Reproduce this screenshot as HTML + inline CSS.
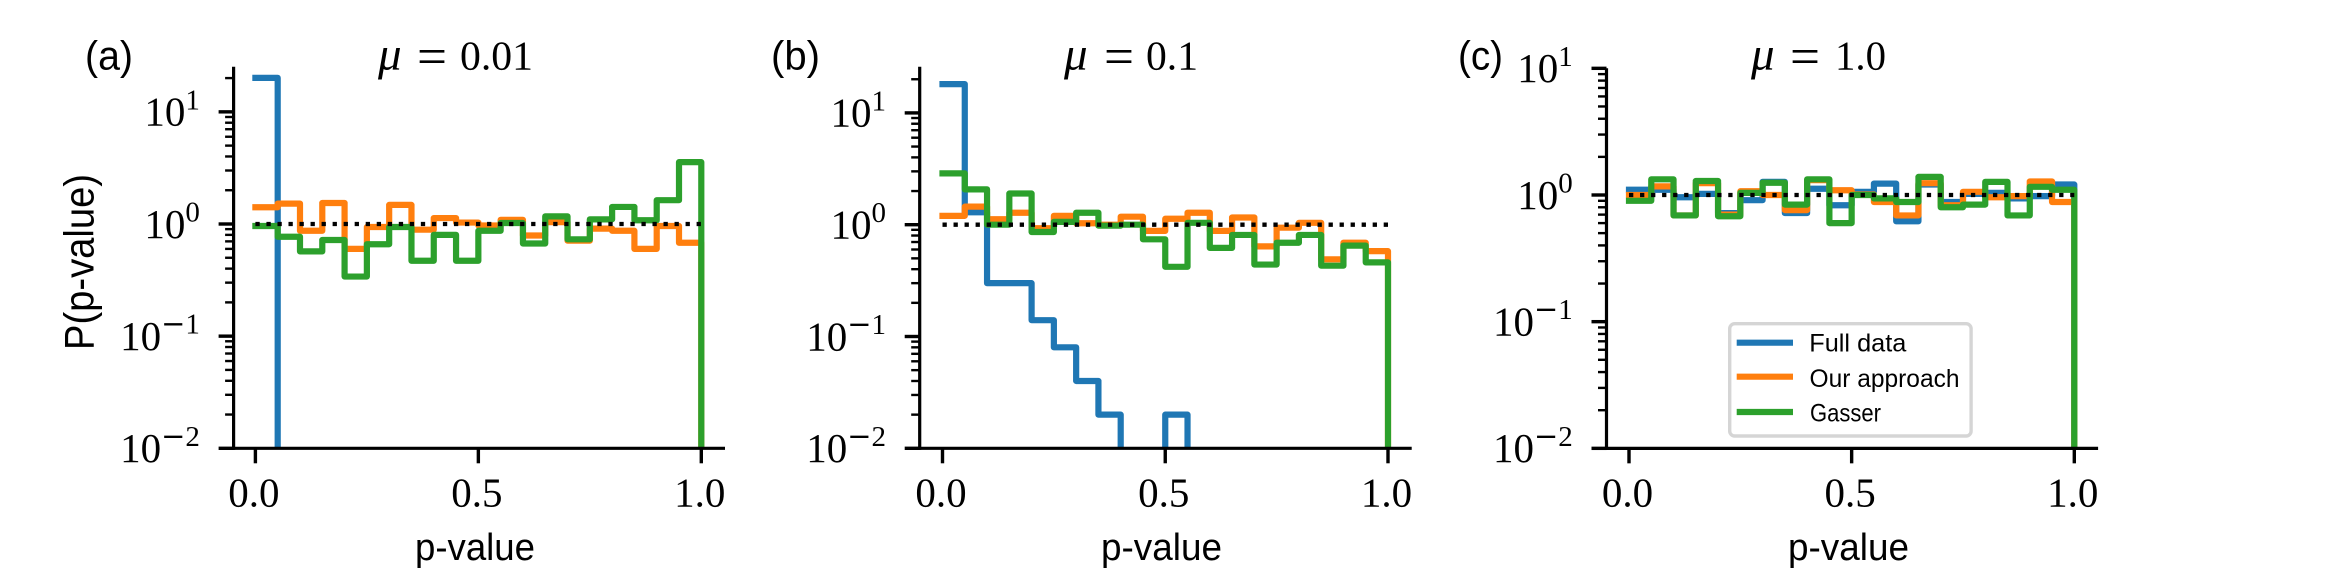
<!DOCTYPE html>
<html lang="en">
<head>
<meta charset="utf-8">
<title>P-value histograms</title>
<style>
html,body{margin:0;padding:0;background:#fff;width:2328px;height:575px;overflow:hidden}
svg{display:block}
.serif{font-family:"Liberation Serif",serif;fill:#000}
.sans{font-family:"Liberation Sans",sans-serif;fill:#000}
</style>
</head>
<body>
<svg id="figure" xmlns="http://www.w3.org/2000/svg" width="2328" height="575" viewBox="0 0 2328 575">
  <rect x="0" y="0" width="2328" height="575" fill="#fff"/>
  <g id="plots"></g>

  <text class="sans" x="85" y="69.5" font-size="41" textLength="48" lengthAdjust="spacingAndGlyphs">(a)</text>
  <text class="sans" x="771" y="69.5" font-size="41" textLength="49" lengthAdjust="spacingAndGlyphs">(b)</text>
  <text class="sans" x="1458" y="69.5" font-size="41" textLength="45" lengthAdjust="spacingAndGlyphs">(c)</text>

  <g class="serif" font-size="41">
    <text x="378" y="69.5" font-size="47" font-style="italic" font-family="Liberation Serif">μ</text>
    <text x="417" y="74" font-size="52" textLength="30" lengthAdjust="spacingAndGlyphs">=</text>
    <text x="460" y="69.5" textLength="73" lengthAdjust="spacingAndGlyphs">0.01</text>
  </g>
  <g class="serif" font-size="41">
    <text x="1064" y="69.5" font-size="47" font-style="italic" font-family="Liberation Serif">μ</text>
    <text x="1104" y="74" font-size="52" textLength="30" lengthAdjust="spacingAndGlyphs">=</text>
    <text x="1146" y="69.5" textLength="52" lengthAdjust="spacingAndGlyphs">0.1</text>
  </g>
  <g class="serif" font-size="41">
    <text x="1751" y="69.5" font-size="47" font-style="italic" font-family="Liberation Serif">μ</text>
    <text x="1790" y="74" font-size="52" textLength="30" lengthAdjust="spacingAndGlyphs">=</text>
    <text x="1835" y="69.5" textLength="51" lengthAdjust="spacingAndGlyphs">1.0</text>
  </g>

  <text class="sans" x="415" y="560" font-size="38" textLength="120" lengthAdjust="spacingAndGlyphs">p-value</text>
  <text class="sans" x="1101" y="560" font-size="38" textLength="121" lengthAdjust="spacingAndGlyphs">p-value</text>
  <text class="sans" x="1788" y="560" font-size="38" textLength="121" lengthAdjust="spacingAndGlyphs">p-value</text>

  <text class="sans" transform="translate(93.5,350) rotate(-90)" x="0" y="0" font-size="42" textLength="176" lengthAdjust="spacingAndGlyphs">P(p-value)</text>

  <g>
    <rect x="1729.7" y="323.7" width="241.4" height="112.3" rx="5" ry="5" fill="#fff" stroke="#d5d5d5" stroke-width="3.4"/>
    <line x1="1736.7" x2="1793" y1="342.7" y2="342.7" stroke="#1f77b4" stroke-width="6.2"/>
    <line x1="1736.7" x2="1793" y1="376.7" y2="376.7" stroke="#ff7f0e" stroke-width="6.2"/>
    <line x1="1736.7" x2="1793" y1="412" y2="412" stroke="#2ca02c" stroke-width="6.2"/>
    <text class="sans" x="1809.3" y="351.7" font-size="25" textLength="97" lengthAdjust="spacingAndGlyphs">Full data</text>
    <text class="sans" x="1809.5" y="387" font-size="25" textLength="150" lengthAdjust="spacingAndGlyphs">Our approach</text>
    <text class="sans" x="1810" y="421.7" font-size="25" textLength="71" lengthAdjust="spacingAndGlyphs">Gasser</text>
  </g>
</svg>
<script>
const xTickValues = [0, 0.5, 1];
const xTickLabels = ['0.0', '0.5', '1.0'];
const yTickExponents = [1, 0, -1, -2];
const referenceLevel = [1];

const aFull = [20.1, 0, 0, 0, 0, 0, 0, 0, 0, 0, 0, 0, 0, 0, 0, 0, 0, 0, 0, 0];
const aOurs = [1.41, 1.52, 0.87, 1.54, 0.60, 0.94, 1.48, 0.89, 1.13, 1.03, 0.97, 1.09, 0.79, 1.04, 0.71, 0.91, 0.87, 0.60, 0.96, 0.68];
const aGasser = [0.96, 0.77, 0.57, 0.72, 0.34, 0.66, 0.94, 0.47, 0.80, 0.47, 0.87, 1.02, 0.67, 1.17, 0.73, 1.10, 1.42, 1.08, 1.63, 3.56];

const bFull = [18.1, 1.29, 0.30, 0.30, 0.14, 0.08, 0.04, 0.02, 0, 0, 0.02, 0, 0, 0, 0, 0, 0, 0, 0, 0];
const bOurs = [1.20, 1.45, 1.12, 1.28, 0.93, 1.20, 1.03, 1.00, 1.18, 0.88, 1.13, 1.28, 0.88, 1.16, 0.64, 0.94, 1.04, 0.49, 0.69, 0.58];
const bGasser = [2.88, 2.07, 1.00, 1.90, 0.86, 1.06, 1.28, 0.98, 1.00, 0.74, 0.42, 1.04, 0.62, 0.81, 0.44, 0.69, 0.81, 0.43, 0.65, 0.46];

const cFull = [1.10, 1.10, 0.96, 1.02, 0.72, 0.91, 1.27, 0.72, 1.12, 0.83, 1.06, 1.23, 0.62, 1.21, 0.88, 1.02, 1.04, 0.94, 0.98, 1.21];
const cOurs = [1.00, 1.17, 0.69, 1.24, 0.70, 1.07, 1.00, 0.76, 1.31, 1.09, 1.01, 0.88, 0.69, 1.24, 0.83, 1.06, 0.96, 0.98, 1.28, 0.88];
const cGasser = [0.90, 1.33, 0.69, 1.29, 0.68, 1.04, 1.25, 0.84, 1.33, 0.60, 1.00, 0.94, 0.88, 1.39, 0.80, 0.84, 1.27, 0.69, 1.16, 1.10];

const SVG_NS = 'http://www.w3.org/2000/svg';
const plots = document.getElementById('plots');

function make(tag, attrs, parent) {
  const node = document.createElementNS(SVG_NS, tag);
  for (const key in attrs) node.setAttribute(key, attrs[key]);
  parent.appendChild(node);
  return node;
}

function drawPanel(id, geom, full, ours, gasser) {
  const xScale = v => geom.x0 + (geom.x1 - geom.x0) * v;
  const yScale = v => geom.y1 - geom.decade * Math.log10(v);
  const bottom = yScale(0.01);

  const panel = make('g', {}, plots);
  
  

  const clip = make('clipPath', { id: 'clip-' + id }, panel);
  make('rect', { x: geom.left, y: geom.top, width: geom.right - geom.left, height: bottom - geom.top }, clip);

  const seriesList = [
    { key: 'full-data', values: full, color: '#1f77b4' },
    { key: 'our-approach', values: ours, color: '#ff7f0e' },
    { key: 'gasser', values: gasser, color: '#2ca02c' }
  ];
  seriesList.forEach(series => {
    const n = series.values.length;
    const yOf = v => (v > 0 ? yScale(v) : bottom + 12);
    let d = 'M' + xScale(0) + ' ' + yOf(series.values[0]);
    series.values.forEach((v, i) => {
      d += ' L' + xScale(i / n) + ' ' + yOf(v) + ' L' + xScale((i + 1) / n) + ' ' + yOf(v);
    });
    d += ' L' + xScale(1) + ' ' + (bottom + 12);
    const line = make('path', {
      d: d, fill: 'none', stroke: series.color, 'stroke-width': 6.2,
      'stroke-linejoin': 'round', 'stroke-linecap': 'square', 'clip-path': 'url(#clip-' + id + ')'
    }, panel);
    
    
  });

  const refLine = make('line', {
    x1: xScale(0), x2: xScale(1), y1: yScale(referenceLevel[0]), y2: yScale(referenceLevel[0]),
    stroke: '#000', 'stroke-width': 4.3, 'stroke-dasharray': '4.3 6.73'
  }, panel);
  
  

  for (let e = -2; e <= 2; e++) {
    for (let m = 2; m <= 9; m++) {
      const value = m * Math.pow(10, e);
      const y = yScale(value);
      if (y < geom.top - 0.5 || y > bottom) continue;
      const minor = make('line', { x1: geom.left - 8.5, x2: geom.left, y1: y, y2: y, stroke: '#000', 'stroke-width': 2.4 }, panel);
      
      
    }
  }

  yTickExponents.forEach(exp => {
    const y = yScale(Math.pow(10, exp));
    const tick = make('line', { x1: geom.left - 15, x2: geom.left, y1: y, y2: y, stroke: '#000', 'stroke-width': 3.4 }, panel);
    
    

    const label = make('text', { x: geom.left - 33.7, y: y + 13.8, 'text-anchor': 'end', class: 'serif', 'font-size': 41 }, panel);
    
    
    const base = make('tspan', {}, label);
    base.textContent = '10';
    const sup = make('tspan', { dy: -16.3, 'font-size': 29 }, label);
    if (exp < 0) {
      const minus = make('tspan', { 'font-family': 'DejaVu Sans', 'font-size': 29 }, sup);
      minus.textContent = '\u2212';
    }
    const digits = make('tspan', {}, sup);
    digits.textContent = String(Math.abs(exp));
  });

  xTickValues.forEach((v, i) => {
    const x = xScale(v);
    const tick = make('line', { x1: x, x2: x, y1: bottom, y2: bottom + 15, stroke: '#000', 'stroke-width': 3.4 }, panel);
    
    

    const label = make('text', { x: x - 1.5, y: 506.7, 'text-anchor': 'middle', class: 'serif', 'font-size': 41 }, panel);
    
    
    label.textContent = xTickLabels[i];
  });

  const ySpine = make('line', { x1: geom.left, x2: geom.left, y1: geom.top, y2: bottom + 1.6, stroke: '#000', 'stroke-width': 3.2 }, panel);
  
  

  const xSpine = make('line', { x1: geom.left - 1.6, x2: geom.right + 0.5, y1: bottom, y2: bottom, stroke: '#000', 'stroke-width': 3.2 }, panel);
  
  
}

drawPanel('a', { left: 233.6, right: 724.5, top: 66.7, x0: 255.4, x1: 701.3, y1: 224, decade: 112.15 }, aFull, aOurs, aGasser);
drawPanel('b', { left: 919.7, right: 1411.2, top: 66.7, x0: 942.5, x1: 1388, y1: 224.7, decade: 111.8 }, bFull, bOurs, bGasser);
drawPanel('c', { left: 1606.5, right: 2097.6, top: 68.3, x0: 1629, x1: 2074.3, y1: 195, decade: 126.67 }, cFull, cOurs, cGasser);
</script>
</body>
</html>
